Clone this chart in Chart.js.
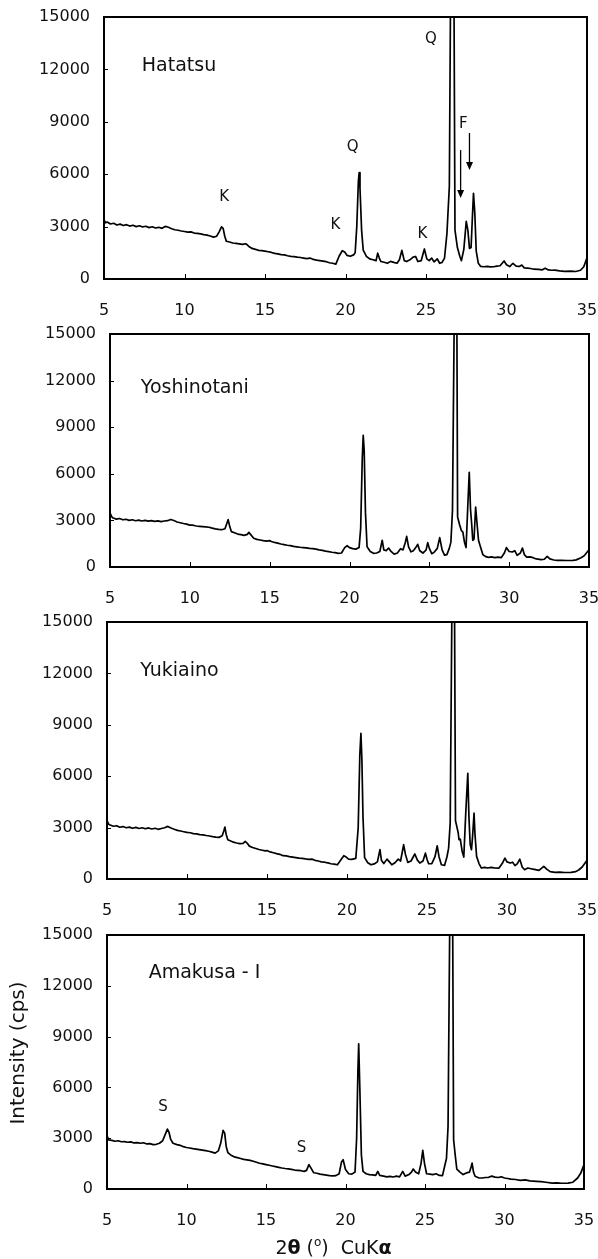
<!DOCTYPE html>
<html>
<head>
<meta charset="utf-8">
<script src="https://cdn.jsdelivr.net/npm/chart.js@4.4.1/dist/chart.umd.min.js"></script>
<style>
  body { margin: 0; background: #fff; }
  .panel { position: absolute; left: 0; width: 598px; }
</style>
</head>
<body>
<div class="panel" style="top:0px"><canvas id="c1" width="598" height="320"></canvas></div>
<div class="panel" style="top:320px"><canvas id="c2" width="598" height="290"></canvas></div>
<div class="panel" style="top:610px"><canvas id="c3" width="598" height="310"></canvas></div>
<div class="panel" style="top:920px"><canvas id="c4" width="598" height="339"></canvas></div>
<script>
// axes
const xTicks = [5, 10, 15, 20, 25, 30, 35];
const yTicks = [0, 3000, 6000, 9000, 12000, 15000];

// Hatatsu
const hatatsuTheta = [
  5.0, 5.1, 5.2, 5.4, 5.6, 5.8, 6.0, 6.2, 6.4, 6.6,
  6.8, 7.0, 7.2, 7.4, 7.6, 7.8, 8.0, 8.2, 8.4, 8.6,
  8.8, 9.0, 9.2, 9.4, 9.6, 9.8, 10.0, 10.2, 10.4, 10.6,
  10.8, 11.0, 11.2, 11.4, 11.6, 11.8, 12.0, 12.15, 12.3, 12.4,
  12.5, 12.6, 12.8, 13.0, 13.2, 13.4, 13.6, 13.8, 13.9, 14.0,
  14.2, 14.4, 14.6, 14.8, 15.0, 15.2, 15.4, 15.6, 15.8, 16.0,
  16.2, 16.4, 16.6, 16.8, 17.0, 17.2, 17.4, 17.6, 17.8, 18.0,
  18.2, 18.4, 18.6, 18.8, 19.0, 19.2, 19.4, 19.6, 19.8, 19.95,
  20.1, 20.3, 20.5, 20.6, 20.7, 20.8, 20.85, 20.9, 21.0, 21.1,
  21.3, 21.5, 21.7, 21.9, 22.0, 22.1, 22.2, 22.4, 22.6, 22.8,
  23.0, 23.2, 23.35, 23.5, 23.65, 23.8, 24.0, 24.2, 24.35, 24.5,
  24.7, 24.9, 25.05, 25.2, 25.35, 25.5, 25.7, 25.85, 26.0, 26.15,
  26.3, 26.45, 26.55, 26.64, 26.72, 26.8, 26.95, 27.1, 27.2, 27.35,
  27.5, 27.6, 27.7, 27.8, 27.88, 27.95, 28.03, 28.12, 28.25, 28.4,
  28.6, 28.8, 29.0, 29.2, 29.4, 29.6, 29.85, 30.0, 30.2, 30.4,
  30.6, 30.8, 30.95, 31.1, 31.3, 31.5, 31.7, 32.0, 32.2, 32.4,
  32.6, 32.8, 33.0, 33.3, 33.6, 34.0, 34.3, 34.6, 34.8, 35.0
];
const hatatsuCps = [
  3380, 3220, 3260, 3150, 3190, 3090, 3140, 3060, 3110, 3030,
  3080, 3000, 3050, 2980, 3020, 2940, 2990, 2920, 2960, 2900,
  3010, 2960, 2880, 2820, 2790, 2750, 2720, 2680, 2700, 2630,
  2610, 2580, 2540, 2510, 2460, 2400, 2450, 2700, 2990, 2900,
  2450, 2160, 2120, 2060, 2040, 2010, 1980, 2020, 1950, 1860,
  1750, 1700, 1640, 1620, 1600, 1560, 1520, 1470, 1440, 1400,
  1380, 1330, 1300, 1280, 1250, 1230, 1200, 1170, 1200, 1120,
  1080, 1050, 1020, 990, 930, 900, 850, 1300, 1620, 1550,
  1350, 1300, 1380, 1500, 3000, 5600, 6090, 5200, 2800, 1650,
  1300, 1150, 1100, 1050, 1480, 1200, 1000, 960, 900, 1010,
  950, 900, 1100, 1640, 1050, 1000, 1100, 1250, 1290, 1000,
  1050, 1720, 1150, 1050, 1200, 980, 1150, 900, 950, 1200,
  2600, 5300, 20000, 45000, 20000, 2800, 1800, 1300, 1050, 1700,
  3300, 2800, 1750, 1800, 3500, 4900, 3800, 1600, 900, 720,
  700, 720, 690, 700, 740, 760, 1030, 820, 710, 900,
  740, 720, 800, 640, 620, 600, 560, 550, 520, 620,
  520, 500, 510, 470, 440, 450, 430, 500, 700, 1220
];

// Yoshinotani
const yoshinotaniTheta = [
  5.0, 5.1, 5.2, 5.4, 5.6, 5.8, 6.0, 6.2, 6.4, 6.6,
  6.8, 7.0, 7.2, 7.4, 7.6, 7.8, 8.0, 8.2, 8.4, 8.6,
  8.8, 9.0, 9.2, 9.4, 9.6, 9.8, 10.0, 10.2, 10.4, 10.6,
  10.8, 11.0, 11.2, 11.4, 11.6, 11.8, 12.0, 12.2, 12.3, 12.4,
  12.5, 12.6, 12.8, 13.0, 13.2, 13.4, 13.6, 13.7, 13.8, 14.0,
  14.2, 14.4, 14.6, 14.8, 15.0, 15.1, 15.3, 15.5, 15.7, 15.9,
  16.1, 16.3, 16.5, 16.7, 16.9, 17.1, 17.3, 17.5, 17.7, 17.9,
  18.1, 18.3, 18.5, 18.7, 18.9, 19.1, 19.3, 19.5, 19.7, 19.85,
  20.0, 20.2, 20.4, 20.6, 20.7, 20.8, 20.86, 20.92, 21.0, 21.1,
  21.3, 21.5, 21.7, 21.9, 22.05, 22.15, 22.3, 22.45, 22.6, 22.8,
  23.0, 23.2, 23.35, 23.5, 23.58, 23.7, 23.85, 24.0, 24.15, 24.27,
  24.4, 24.6, 24.8, 24.9, 25.0, 25.15, 25.3, 25.5, 25.65, 25.8,
  25.95, 26.1, 26.25, 26.35, 26.45, 26.55, 26.63, 26.71, 26.77, 26.9,
  27.0, 27.1, 27.2, 27.3, 27.4, 27.5, 27.58, 27.65, 27.72, 27.8,
  27.9, 27.98, 28.08, 28.2, 28.35, 28.5, 28.7, 28.9, 29.1, 29.3,
  29.5, 29.7, 29.83, 30.0, 30.2, 30.35, 30.5, 30.7, 30.83, 30.95,
  31.1, 31.3, 31.5, 31.7, 32.0, 32.2, 32.38, 32.55, 32.8, 33.0,
  33.3, 33.6, 34.0, 34.2, 34.5, 34.7, 35.0
];
const yoshinotaniCps = [
  3480, 3250, 3150, 3080, 3120, 3040, 3070, 3000, 3040, 2980,
  3020, 2960, 3000, 2950, 2990, 2940, 2970, 2920, 2960, 2980,
  3060, 2990, 2900, 2850, 2800, 2760, 2700, 2690, 2640, 2620,
  2600, 2580, 2560, 2500, 2450, 2420, 2400, 2460, 2750, 3050,
  2600, 2280, 2200, 2120, 2080, 2040, 2100, 2230, 2100, 1850,
  1780, 1740, 1700, 1670, 1700, 1640, 1580, 1540, 1480, 1440,
  1400, 1380, 1330, 1300, 1270, 1250, 1230, 1200, 1180, 1150,
  1100, 1070, 1020, 990, 950, 920, 880, 900, 1250, 1370,
  1250, 1180, 1150, 1250, 2500, 7000, 8480, 7500, 3500, 1300,
  1000, 880, 900, 1000, 1720, 1100, 1050, 1220, 1000, 830,
  900, 1180, 1100, 1600, 1970, 1300, 980, 1050, 1250, 1460,
  1050, 900, 1100, 1570, 1200, 860, 950, 1200, 1890, 1100,
  760, 800, 1200, 1600, 3650, 15000, 45000, 20000, 3220, 2700,
  2360, 2250, 1600, 1250, 3700, 6100, 3700, 2800, 1720, 1800,
  3860, 2900, 1720, 1300, 800, 680, 620, 650, 600, 640,
  600, 900, 1245, 1000, 965, 1050, 750, 900, 1220, 800,
  640, 650, 600, 520, 470, 500, 690, 520, 450, 430,
  430, 420, 430, 460, 600, 720, 1115
];

// Yukiaino
const yukiainoTheta = [
  5.0, 5.1, 5.2, 5.4, 5.6, 5.8, 6.0, 6.2, 6.4, 6.6,
  6.8, 7.0, 7.2, 7.4, 7.6, 7.8, 8.0, 8.2, 8.4, 8.6,
  8.8, 9.0, 9.2, 9.4, 9.6, 9.8, 10.0, 10.2, 10.4, 10.6,
  10.8, 11.0, 11.2, 11.4, 11.6, 11.8, 12.0, 12.2, 12.3, 12.37,
  12.45, 12.55, 12.7, 12.9, 13.1, 13.3, 13.5, 13.64, 13.75, 13.9,
  14.1, 14.3, 14.5, 14.7, 14.9, 15.0, 15.2, 15.4, 15.6, 15.8,
  16.0, 16.2, 16.4, 16.6, 16.8, 17.0, 17.2, 17.4, 17.6, 17.8,
  18.0, 18.2, 18.4, 18.6, 18.8, 19.0, 19.2, 19.4, 19.6, 19.8,
  19.95, 20.1, 20.3, 20.55, 20.7, 20.8, 20.87, 20.93, 21.0, 21.1,
  21.3, 21.5, 21.7, 21.9, 22.06, 22.15, 22.3, 22.5, 22.65, 22.8,
  23.0, 23.2, 23.35, 23.54, 23.65, 23.8, 24.0, 24.24, 24.4, 24.55,
  24.75, 24.9, 25.0, 25.1, 25.3, 25.5, 25.64, 25.75, 25.9, 26.1,
  26.25, 26.35, 26.45, 26.55, 26.62, 26.7, 26.78, 26.84, 26.95, 27.0,
  27.08, 27.2, 27.3, 27.42, 27.55, 27.62, 27.7, 27.78, 27.85, 27.94,
  28.0, 28.1, 28.25, 28.4, 28.6, 28.8, 29.0, 29.2, 29.5, 29.7,
  29.87, 30.0, 30.2, 30.35, 30.5, 30.65, 30.8, 30.95, 31.1, 31.3,
  31.5, 31.7, 32.0, 32.3, 32.5, 32.7, 33.0, 33.3, 33.6, 34.0,
  34.3, 34.5, 34.7, 35.0
];
const yukiainoCps = [
  3410, 3200, 3150, 3080, 3110, 3020, 3060, 2990, 3030, 2960,
  3010, 2950, 2990, 2930, 2980, 2920, 2960, 2900, 2950, 2990,
  3070, 2980, 2900, 2840, 2800, 2760, 2720, 2700, 2650, 2630,
  2590, 2580, 2540, 2510, 2470, 2440, 2430, 2520, 2800, 3030,
  2600, 2290, 2230, 2150, 2100, 2060, 2080, 2190, 2100, 1920,
  1840, 1780, 1720, 1680, 1640, 1660, 1580, 1530, 1480, 1440,
  1360, 1350, 1310, 1280, 1250, 1220, 1200, 1170, 1150, 1160,
  1090, 1050, 1000, 980, 940, 890, 870, 830, 1100, 1360,
  1280, 1160, 1150, 1200, 3000, 7200, 8500, 7000, 3600, 1250,
  950, 830, 880, 1000, 1710, 1100, 900, 1160, 1000, 830,
  950, 1160, 1050, 2000, 1450, 970, 1050, 1460, 1100, 930,
  1050, 1510, 1150, 890, 900, 1300, 1940, 1300, 830, 800,
  1300, 1800, 3260, 15000, 45000, 20000, 3400, 3160, 2700, 2290,
  2330, 1600, 1280, 3800, 6170, 3650, 2000, 1710, 2500, 3840,
  2600, 1320, 900, 640, 680, 640, 680, 650, 640, 900,
  1220, 1000, 930, 980, 780, 900, 1160, 700, 540, 640,
  600, 560, 500, 740, 560, 430, 390, 400, 380, 390,
  430, 540, 700, 1090
];

// Amakusa - I
const amakusaTheta = [
  5.0, 5.1, 5.3, 5.5, 5.7, 5.9, 6.1, 6.3, 6.5, 6.7,
  6.9, 7.1, 7.3, 7.5, 7.7, 7.9, 8.1, 8.3, 8.5, 8.65,
  8.8, 8.9, 9.0, 9.15, 9.4, 9.6, 9.8, 10.0, 10.2, 10.4,
  10.6, 10.8, 11.0, 11.2, 11.4, 11.6, 11.8, 12.0, 12.15, 12.3,
  12.4, 12.5, 12.6, 12.8, 13.0, 13.2, 13.4, 13.6, 13.8, 14.0,
  14.2, 14.4, 14.6, 14.8, 15.0, 15.2, 15.4, 15.6, 15.8, 16.0,
  16.2, 16.4, 16.6, 16.8, 17.0, 17.2, 17.4, 17.55, 17.7, 17.85,
  18.0, 18.2, 18.4, 18.6, 18.8, 19.0, 19.2, 19.4, 19.6, 19.75,
  19.85, 20.0, 20.2, 20.4, 20.6, 20.7, 20.78, 20.83, 20.9, 21.0,
  21.1, 21.3, 21.5, 21.7, 21.9, 22.03, 22.15, 22.4, 22.6, 22.8,
  23.0, 23.2, 23.4, 23.6, 23.75, 24.0, 24.15, 24.26, 24.4, 24.6,
  24.75, 24.86, 24.97, 25.1, 25.3, 25.5, 25.7, 25.9, 26.1, 26.25,
  26.35, 26.45, 26.55, 26.63, 26.72, 26.8, 26.9, 27.0, 27.2, 27.4,
  27.6, 27.8, 27.9, 27.96, 28.05, 28.15, 28.4, 28.6, 28.8, 29.0,
  29.2, 29.4, 29.6, 29.8, 30.0, 30.2, 30.4, 30.7, 31.0, 31.3,
  31.6, 32.0, 32.3, 32.6, 33.0, 33.3, 33.6, 34.0, 34.3, 34.6,
  34.8, 35.0, 35.1, 35.3
];
const amakusaCps = [
  3150, 2900, 2870, 2820, 2850, 2790, 2800, 2760, 2780, 2720,
  2740, 2700, 2730, 2660, 2680, 2620, 2640, 2700, 2850, 3200,
  3540, 3350, 2950, 2700, 2620, 2580, 2500, 2450, 2420, 2380,
  2360, 2330, 2300, 2270, 2230, 2180, 2120, 2250, 2700, 3460,
  3300, 2500, 2150, 2000, 1900, 1850, 1800, 1750, 1720, 1690,
  1640, 1580, 1520, 1480, 1440, 1400, 1360, 1320, 1280, 1240,
  1210, 1190, 1160, 1120, 1100, 1080, 1040, 1100, 1440, 1200,
  960, 930, 880, 850, 820, 790, 780, 790, 900, 1600,
  1730, 1150, 900, 880, 1000, 3000, 7000, 8570, 6000, 2000,
  1040, 900, 850, 830, 800, 1040, 800, 760, 720, 750,
  710, 760, 720, 1040, 760, 860, 1000, 1180, 1000, 900,
  1500, 2280, 1500, 900, 880, 850, 900, 800, 790, 1400,
  1800, 3700, 15000, 45000, 20000, 2910, 2000, 1180, 1000, 850,
  950, 1000, 1300, 1530, 1000, 750, 650, 650, 680, 690,
  760, 700, 680, 720, 650, 620, 580, 560, 510, 540,
  480, 450, 430, 400, 350, 360, 340, 350, 400, 650,
  940, 1440, 1100, 650
];

const FONT = '"DejaVu Sans", sans-serif';
const INK = '#111';

// frame, inward ticks, peak letters, arrows, sample name, axis titles
const decor = {
  id: 'decor',
  afterDatasetsDraw(chart, args, opts) {
    const { ctx, chartArea: a, scales: { x, y } } = chart;
    ctx.save();
    ctx.strokeStyle = '#000';
    ctx.lineWidth = 1;
    x.ticks.forEach(t => {
      const px = Math.round(x.getPixelForValue(t.value)) + 0.5;
      if (px < a.left + 2 || px > a.right - 2) return;
      ctx.beginPath(); ctx.moveTo(px, a.bottom); ctx.lineTo(px, a.bottom - 5); ctx.stroke();
    });
    y.ticks.forEach(t => {
      const py = Math.round(y.getPixelForValue(t.value)) + 0.5;
      if (py < a.top + 2 || py > a.bottom - 2) return;
      ctx.beginPath(); ctx.moveTo(a.left, py); ctx.lineTo(a.left + 4, py); ctx.stroke();
    });
    ctx.lineWidth = 2;
    ctx.strokeRect(a.left, a.top, a.right - a.left, a.bottom - a.top);

    ctx.fillStyle = INK;
    ctx.textBaseline = 'middle';
    ctx.textAlign = 'center';
    ctx.font = '15px ' + FONT;
    (opts.marks || []).forEach(m => {
      ctx.fillText(m.text, x.getPixelForValue(m.x), y.getPixelForValue(m.y));
    });

    ctx.fillStyle = '#000';
    ctx.lineWidth = 1.3;
    (opts.arrows || []).forEach(r => {
      const px = x.getPixelForValue(r.x);
      const y1 = y.getPixelForValue(r.y1);
      const y2 = y.getPixelForValue(r.y2);
      ctx.beginPath(); ctx.moveTo(px, y1); ctx.lineTo(px, y2 - 6); ctx.stroke();
      ctx.beginPath(); ctx.moveTo(px - 3.5, y2 - 8); ctx.lineTo(px + 3.5, y2 - 8); ctx.lineTo(px, y2); ctx.closePath(); ctx.fill();
    });

    ctx.fillStyle = INK;
    if (opts.name) {
      ctx.textAlign = 'left';
      ctx.font = '19px ' + FONT;
      ctx.fillText(opts.name.text, x.getPixelForValue(opts.name.x), y.getPixelForValue(opts.name.y));
    }

    if (opts.yTitle) {
      ctx.save();
      ctx.translate(19, (a.top + a.bottom) / 2 - 9);
      ctx.rotate(-Math.PI / 2);
      ctx.textAlign = 'center';
      ctx.font = '20px ' + FONT;
      ctx.fillText(opts.yTitle, 0, 0);
      ctx.restore();
    }

    if (opts.xTitle) {
      // 2θ (°)  CuKα with bold greek letters and a raised o
      const parts = [
        { t: '2', f: '19px ' + FONT, dy: 0 },
        { t: 'θ', f: 'bold 19px ' + FONT, dy: 0 },
        { t: ' (', f: '19px ' + FONT, dy: 0 },
        { t: 'o', f: '12px ' + FONT, dy: -6 },
        { t: ')  CuK', f: '19px ' + FONT, dy: 0 },
        { t: 'α', f: 'bold 19px ' + FONT, dy: 0 }
      ];
      let total = 0;
      parts.forEach(p => { ctx.font = p.f; p.w = ctx.measureText(p.t).width; total += p.w; });
      let cx = (a.left + a.right) / 2 - 12 - total / 2;
      const cy = a.bottom + 60;
      ctx.textAlign = 'left';
      parts.forEach(p => { ctx.font = p.f; ctx.fillText(p.t, cx, cy + p.dy); cx += p.w; });
    }
    ctx.restore();
  }
};

function makePanel(p) {
  const pts = p.theta.map((t, i) => ({ x: t, y: p.cps[i] }));
  new Chart(document.getElementById(p.id), {
    type: 'line',
    data: {
      datasets: [{
        data: pts,
        borderColor: '#000',
        borderWidth: 1.7,
        borderJoinStyle: 'round',
        pointRadius: 0,
        tension: 0,
        clip: p.clip || 0
      }]
    },
    options: {
      responsive: false,
      animation: false,
      devicePixelRatio: 1,
      layout: { padding: { left: 0, top: p.padTop, right: p.padRight, bottom: 0 } },
      plugins: {
        legend: { display: false },
        tooltip: { enabled: false },
        decor: { name: p.name, marks: p.marks, arrows: p.arrows, xTitle: p.xTitle, yTitle: p.yTitle }
      },
      scales: {
        x: {
          type: 'linear',
          min: 5,
          max: 35,
          afterBuildTicks: s => { s.ticks = xTicks.map(v => ({ value: v })); },
          afterFit: s => { s.height = p.xHeight; s.paddingLeft = 0; s.paddingRight = 0; },
          grid: { display: false, drawTicks: false },
          border: { display: false },
          ticks: { padding: 22, color: INK, font: { family: FONT, size: 16 }, callback: v => String(v) }
        },
        y: {
          min: 0,
          max: 15000,
          afterBuildTicks: s => { s.ticks = yTicks.map(v => ({ value: v })); },
          afterFit: s => { s.width = p.yWidth; s.paddingTop = 0; s.paddingBottom = 0; },
          grid: { display: false, drawTicks: false },
          border: { display: false },
          ticks: { padding: 14, color: INK, font: { family: FONT, size: 16 }, callback: v => String(v) }
        }
      }
    },
    plugins: [decor]
  });
}

makePanel({
  id: 'c1', theta: hatatsuTheta, cps: hatatsuCps,
  padTop: 17, padRight: 11, xHeight: 41, yWidth: 104,
  name: { x: 7.35, y: 12190, text: 'Hatatsu' },
  marks: [
    { x: 12.46, y: 4710, text: 'K' },
    { x: 19.38, y: 3090, text: 'K' },
    { x: 20.45, y: 7570, text: 'Q' },
    { x: 24.78, y: 2575, text: 'K' },
    { x: 25.3, y: 13720, text: 'Q' },
    { x: 27.32, y: 8870, text: 'F' }
  ],
  arrows: [
    { x: 27.15, y1: 7380, y2: 4640 },
    { x: 27.7, y1: 8360, y2: 6240 }
  ]
});

makePanel({
  id: 'c2', theta: yoshinotaniTheta, cps: yoshinotaniCps,
  padTop: 14, padRight: 9, xHeight: 43, yWidth: 110,
  name: { x: 6.93, y: 11545, text: 'Yoshinotani' }
});

makePanel({
  id: 'c3', theta: yukiainoTheta, cps: yukiainoCps,
  padTop: 12, padRight: 11, xHeight: 41, yWidth: 107,
  name: { x: 7.08, y: 12140, text: 'Yukiaino' }
});

makePanel({
  id: 'c4', theta: amakusaTheta, cps: amakusaCps,
  padTop: 15, padRight: 14, xHeight: 70, yWidth: 107,
  clip: { left: 0, top: 0, right: 8, bottom: 0 },
  xTitle: true,
  yTitle: 'Intensity (cps)',
  name: { x: 7.62, y: 12740, text: 'Amakusa - I' },
  marks: [
    { x: 8.53, y: 4840, text: 'S' },
    { x: 17.23, y: 2400, text: 'S' }
  ]
});
</script>
</body>
</html>
